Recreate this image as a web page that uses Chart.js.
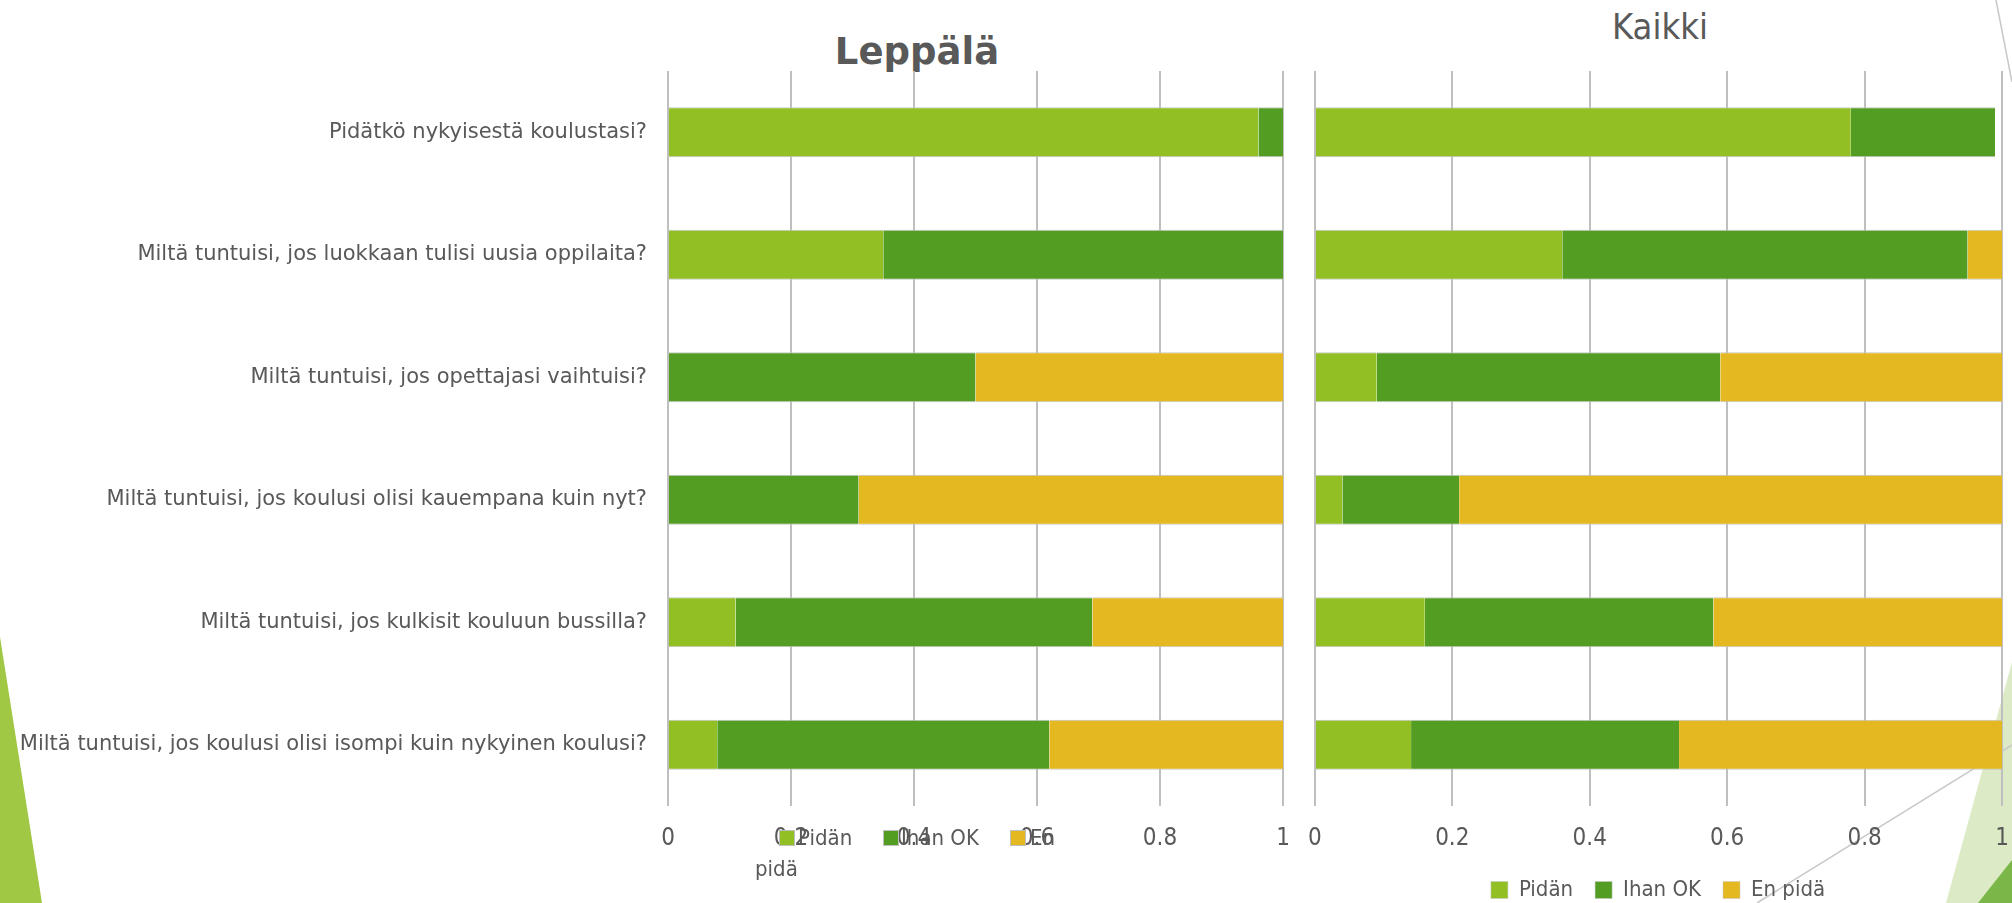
<!DOCTYPE html>
<html>
<head>
<meta charset="utf-8">
<script src="https://cdn.jsdelivr.net/npm/chart.js@4.4.1/dist/chart.umd.min.js"></script>
<style>
  html, body { margin: 0; padding: 0; width: 2012px; height: 903px; overflow: hidden; background: #fff; }
  #deco { position: absolute; left: 0; top: 0; }
  .box { position: absolute; }
  .ttl { position: absolute; color: #595959; font-size: 36px; line-height: 36px; white-space: nowrap; transform: translateX(-50%); }
  .lg { position: absolute; font: 22px "DejaVu Sans Condensed"; color: #595959; line-height: 22px; white-space: nowrap; }
  .sw { position: absolute; width: 16px; height: 16px; box-sizing: border-box; border: 1px solid #bfbfbf; }
</style>
</head>
<body>
<svg id="deco" width="2012" height="903">
  <polygon points="0,637 42,903 0,903" fill="#a0c844"/>
  <polygon points="2012,662 1946,903 2012,903" fill="#dcebc6"/>
  <polygon points="2012,860 1978,903 2012,903" fill="#7ab648"/>
  <line x1="2012" y1="745" x2="1757" y2="903" stroke="#c8c8c8" stroke-width="1.5"/>
  <line x1="1996" y1="0" x2="2012" y2="82" stroke="#c8c8c8" stroke-width="1.5"/>
</svg>

<div class="ttl" style="left:917px;top:34px;font-family:'DejaVu Sans';font-weight:bold;font-size:37px;">Leppälä</div>
<div class="ttl" style="left:1660px;top:9px;font-family:'DejaVu Sans Condensed';">Kaikki</div>

<div class="box" style="left:-60px;top:0;width:1383px;height:903px;"><canvas id="leftChart"></canvas></div>
<div class="box" style="left:1290px;top:0;width:772px;height:911px;"><canvas id="rightChart"></canvas></div>
<div id="leftLegend"></div>

<script>
var questions = [
  "Pidätkö nykyisestä koulustasi?",
  "Miltä tuntuisi, jos luokkaan tulisi uusia oppilaita?",
  "Miltä tuntuisi, jos opettajasi vaihtuisi?",
  "Miltä tuntuisi, jos koulusi olisi kauempana kuin nyt?",
  "Miltä tuntuisi, jos kulkisit kouluun bussilla?",
  "Miltä tuntuisi, jos koulusi olisi isompi kuin nykyinen koulusi?"
];
var seriesNames = ["Pidän", "Ihan OK", "En pidä"];
var seriesColors = ["#92c024", "#539e22", "#e4b820"];

// Leppälä
var leppalaPidan  = [0.96, 0.35, 0,    0,    0.11, 0.08];
var leppalaIhanOk = [0.04, 0.65, 0.50, 0.31, 0.58, 0.54];
var leppalaEnPida = [0,    0,    0.50, 0.69, 0.31, 0.38];

// Kaikki
var kaikkiPidan  = [0.78, 0.36, 0.09, 0.04, 0.16, 0.14];
var kaikkiIhanOk = [0.21, 0.59, 0.50, 0.17, 0.42, 0.39];
var kaikkiEnPida = [0,    0.05, 0.41, 0.79, 0.42, 0.47];

var xTicks = [0, 0.2, 0.4, 0.6, 0.8, 1];
var xTickText = ["0", "0.2", "0.4", "0.6", "0.8", "1"];

Chart.defaults.font.family = "DejaVu Sans Condensed";
Chart.defaults.color = "#595959";

function makeSets(vals) {
  return vals.map(function(v, i) {
    return {
      label: seriesNames[i],
      data: v,
      backgroundColor: seriesColors[i],
      borderColor: "#c4c4c4",
      borderWidth: {top: 1, bottom: 1, left: 0, right: 0},
      borderSkipped: false,
      barPercentage: 0.41,
      categoryPercentage: 1
    };
  });
}

function xScale(bottomGap) {
  return {
    stacked: true,
    min: 0, max: 1,
    afterBuildTicks: function(s) { s.ticks = xTicks.map(function(v) { return {value: v}; }); },
    grid: { color: "#bfbfbf", lineWidth: 2, drawTicks: false },
    border: { display: false },
    ticks: {
      padding: 18, font: { size: 24 }, color: "#595959",
      callback: function(v, i) { return xTickText[i]; }
    },
    afterFit: function(s) {
      var lg = s.chart.legend;
      var lh = (lg && lg.options.display) ? lg.height : 0;
      s.height = bottomGap - lh;
    }
  };
}

var leftChart = new Chart(document.getElementById("leftChart"), {
  type: "bar",
  data: { labels: questions, datasets: makeSets([leppalaPidan, leppalaIhanOk, leppalaEnPida]) },
  options: {
    indexAxis: "y",
    responsive: true,
    maintainAspectRatio: false,
    animation: false,
    layout: { padding: { top: 71, right: 40, bottom: 0, left: 0 } },
    plugins: { legend: { display: false }, tooltip: { enabled: false } },
    scales: {
      x: xScale(903 - 806),
      y: {
        stacked: true,
        grid: { display: false },
        border: { display: false },
        ticks: { padding: 13, font: { family: "DejaVu Sans", size: 21 }, color: "#595959" },
        afterFit: function(s) { s.width = 668 + 60; }
      }
    }
  }
});

var rightChart = new Chart(document.getElementById("rightChart"), {
  type: "bar",
  data: { labels: questions, datasets: makeSets([kaikkiPidan, kaikkiIhanOk, kaikkiEnPida]) },
  options: {
    indexAxis: "y",
    responsive: true,
    maintainAspectRatio: false,
    animation: false,
    layout: { padding: { top: 71, right: 60, bottom: 0, left: 24 } },
    plugins: {
      legend: {
        position: "bottom",
        labels: { boxWidth: 17, boxHeight: 17, padding: 22, font: { size: 22 }, color: "#595959" }
      },
      tooltip: { enabled: false }
    },
    scales: {
      x: xScale(911 - 806),
      y: { stacked: true, display: false }
    }
  }
});

// left legend: wrapped the way the slide shows it, overlapping the tick labels
var legPos = [[779, 798], [883, 901], [1010, 1030]];
var legHtml = "";
seriesNames.forEach(function(name, i) {
  var words = name.split(" ");
  var first = (i === 2) ? words[0] : name;
  legHtml += '<div class="sw" style="left:' + legPos[i][0] + 'px;top:830px;background:' + seriesColors[i] + ';"></div>';
  legHtml += '<div class="lg" style="left:' + legPos[i][1] + 'px;top:827px;">' + first + '</div>';
  if (i === 2) legHtml += '<div class="lg" style="left:755px;top:858px;">' + words.slice(1).join(" ") + '</div>';
});
document.getElementById("leftLegend").innerHTML = legHtml;
</script>
</body>
</html>
